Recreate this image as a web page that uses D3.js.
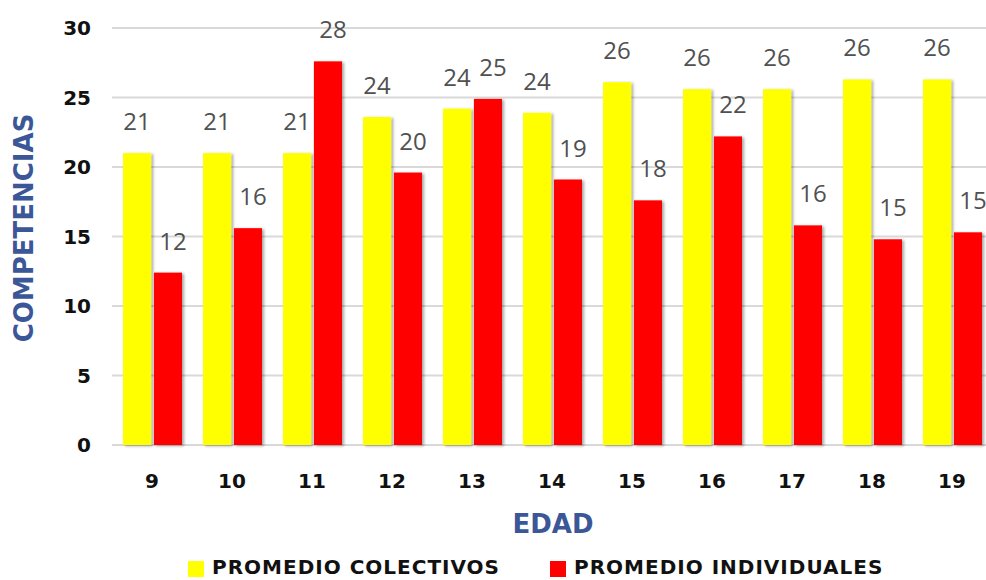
<!DOCTYPE html>
<html>
<head>
<meta charset="utf-8">
<script src="https://cdn.jsdelivr.net/npm/d3@7"></script>
<style>
  html, body { margin: 0; padding: 0; background: #fff; overflow: hidden; }
  svg { display: block; }
</style>
</head>
<body>
<svg id="chart" width="986" height="580"></svg>
<script>
// Age groups on the x axis
const ages = ["9", "10", "11", "12", "13", "14", "15", "16", "17", "18", "19"];
// Average competencies, team sports
const colectivos = [21.0, 21.0, 21.0, 23.6, 24.2, 23.9, 26.1, 25.6, 25.6, 26.3, 26.3];
// Average competencies, individual sports
const individuales = [12.4, 15.6, 27.6, 19.6, 24.9, 19.1, 17.6, 22.2, 15.8, 14.8, 15.3];
const yTicks = [0, 5, 10, 15, 20, 25, 30];
const seriesNames = ["PROMEDIO COLECTIVOS", "PROMEDIO INDIVIDUALES"];
const seriesColors = ["#FFFF00", "#FF0000"];

const svg = d3.select("#chart");
const boldFont = "'DejaVu Sans', sans-serif";
const labelFont = "'Open Sans', sans-serif";
const blue = "#3B5797";

const x = d3.scaleBand().domain(ages).range([112, 992]).paddingInner(0).paddingOuter(0);
const inner = d3.scaleBand().domain([0, 1]).range([11, 70]).paddingInner(0.09);
const y = d3.scaleLinear().domain([0, 30]).range([445, 28]);

const defs = svg.append("defs");
const f = defs.append("filter").attr("id", "shadow")
  .attr("x", "-20%").attr("y", "-10%").attr("width", "150%").attr("height", "130%");
f.append("feDropShadow").attr("dx", 2).attr("dy", 1).attr("stdDeviation", 1.5)
  .attr("flood-color", "#000").attr("flood-opacity", 0.35);

// Gridlines
svg.append("g").selectAll("line").data(yTicks).join("line")
  .attr("x1", 112).attr("x2", 986)
  .attr("y1", d => y(d)).attr("y2", d => y(d))
  .attr("stroke", "#d9d9d9").attr("stroke-width", 2);

// Y tick labels
svg.append("g").selectAll("text").data(yTicks).join("text")
  .attr("x", 91).attr("y", d => y(d)).attr("dy", "0.36em")
  .attr("text-anchor", "end")
  .attr("font-family", boldFont).attr("font-weight", "bold").attr("font-size", 20)
  .attr("fill", "#111").text(d => d);

// Bars
const rows = ages.map((a, i) => ({ age: a, vals: [colectivos[i], individuales[i]] }));
const groups = svg.append("g").selectAll("g").data(rows).join("g")
  .attr("transform", d => `translate(${x(d.age)},0)`);

groups.selectAll("rect").data(d => d.vals.map((v, k) => ({ v, k }))).join("rect")
  .attr("x", d => inner(d.k))
  .attr("width", inner.bandwidth())
  .attr("y", d => y(d.v))
  .attr("height", d => y(0) - y(d.v))
  .attr("fill", d => seriesColors[d.k])
  .attr("filter", "url(#shadow)");

// Value labels
groups.selectAll("text").data(d => d.vals.map((v, k) => ({ v, k }))).join("text")
  .attr("x", d => inner(d.k) + inner.bandwidth() / 2 + (d.k === 1 ? 5 : 0))
  .attr("y", d => y(d.v) - 23)
  .attr("text-anchor", "middle")
  .attr("font-family", labelFont).attr("font-size", 24)
  .attr("fill", "#505050")
  .text(d => Math.round(d.v));

// X tick labels
svg.append("g").selectAll("text").data(ages).join("text")
  .attr("x", d => x(d) + x.bandwidth() / 2).attr("y", 488)
  .attr("text-anchor", "middle")
  .attr("font-family", boldFont).attr("font-weight", "bold").attr("font-size", 20)
  .attr("fill", "#111").text(d => d);

// Axis titles
svg.append("text").attr("x", 553).attr("y", 533).attr("text-anchor", "middle")
  .attr("font-family", boldFont).attr("font-weight", "bold").attr("font-size", 26)
  .attr("fill", blue).text("EDAD");

svg.append("text")
  .attr("transform", "translate(33,228) rotate(-90)")
  .attr("text-anchor", "middle")
  .attr("font-family", boldFont).attr("font-weight", "bold").attr("font-size", 26)
  .attr("fill", blue).text("COMPETENCIAS");

// Legend
const legendX = [188, 550];
const legend = svg.append("g").selectAll("g").data(seriesNames).join("g")
  .attr("transform", (d, i) => `translate(${legendX[i]},0)`);
legend.append("rect").attr("x", 0).attr("y", 561).attr("width", 16).attr("height", 16)
  .attr("fill", (d, i) => seriesColors[i]);
legend.append("text").attr("x", 24).attr("y", 574)
  .attr("font-family", boldFont).attr("font-weight", "bold").attr("font-size", 20)
  .attr("letter-spacing", 1)
  .attr("fill", "#111").text(d => d);
</script>
</body>
</html>
